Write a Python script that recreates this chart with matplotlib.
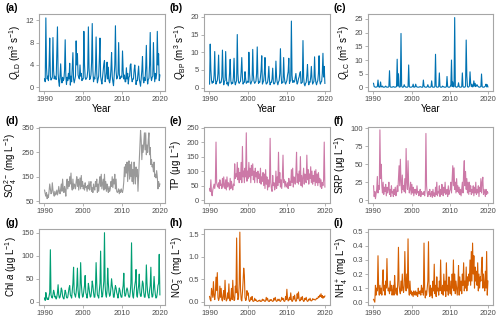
import numpy as np
import matplotlib
matplotlib.use("Agg")
import matplotlib.pyplot as plt
from matplotlib.ticker import FormatStrFormatter

plt.rcParams["font.family"] = ["Liberation Sans", "DejaVu Sans"]
plt.rcParams["mathtext.fontset"] = "custom"
plt.rcParams["mathtext.rm"] = "Liberation Sans"
plt.rcParams["mathtext.it"] = "Liberation Sans:italic"

# sampling: every second month, 1990-2019
YEARS = list(range(1990, 2020))
MONTHS = [1, 3, 5, 7, 9, 11]

q_ld = [
    [1.5, 1.0, 12.4, 3.5, 1.5, 2.0], [1.2, 4.0, 8.8, 2.0, 1.3, 1.5],
    [1.8, 8.9, 3.0, 1.5, 2.0, 1.6], [1.4, 6.0, 10.8, 2.5, 1.0, 0.2],
    [2.0, 4.2, 1.5, 0.8, 1.8, 1.2], [1.5, 3.0, 8.5, 2.0, 0.5, 1.8],
    [1.2, 2.5, 1.5, 4.3, 0.4, 2.0], [1.0, 3.5, 6.2, 1.5, 0.8, 1.4],
    [2.0, 8.3, 4.0, 6.0, 2.2, 1.8], [1.5, 4.0, 2.0, 2.5, 1.2, 1.5],
    [1.5, 10.0, 4.0, 1.8, 1.4, 1.6], [1.8, 3.0, 10.8, 3.5, 1.4, 1.6],
    [2.2, 4.5, 11.4, 3.0, 1.0, 1.8], [1.5, 3.2, 9.0, 2.5, 0.8, 1.4],
    [2.0, 5.0, 8.8, 2.0, 1.2, 0.6], [1.8, 3.0, 4.2, 4.8, 1.0, 1.6],
    [2.5, 4.5, 1.5, 3.6, 1.2, 0.8], [1.5, 3.2, 6.2, 2.0, 1.0, 0.3],
    [2.0, 4.0, 11.0, 3.0, 1.5, 1.8], [2.2, 8.0, 2.5, 1.5, 1.8, 2.0],
    [1.8, 6.5, 3.0, 1.5, 2.2, 1.0], [1.0, 3.5, 1.5, 2.5, 0.6, 1.8],
    [2.0, 4.0, 4.2, 1.8, 1.0, 1.5], [1.5, 3.0, 4.0, 2.5, 0.5, 1.2],
    [1.2, 2.5, 3.8, 1.5, 0.8, 0.2], [1.5, 3.0, 5.5, 1.5, 0.8, 1.8],
    [1.2, 3.5, 7.5, 2.0, 0.6, 1.4], [1.6, 4.0, 9.8, 2.0, 1.2, 1.8],
    [2.0, 8.0, 3.0, 1.0, 2.5, 1.5], [2.5, 10.0, 4.0, 6.0, 1.2, 2.2],
]

q_bp = [
    [1.0, 12.3, 5.0, 2.0, 1.2, 1.8], [1.5, 3.5, 10.2, 2.5, 1.0, 1.6],
    [2.0, 4.0, 9.2, 2.5, 1.2, 1.5], [1.5, 3.0, 10.6, 3.0, 0.8, 1.8],
    [2.0, 10.2, 3.0, 1.0, 1.5, 0.5], [1.5, 4.0, 8.0, 2.0, 1.0, 1.4],
    [1.2, 3.0, 8.3, 1.8, 0.8, 1.5], [2.0, 15.0, 4.0, 1.5, 1.2, 1.6],
    [1.8, 4.5, 8.5, 3.0, 1.0, 1.5], [1.5, 4.5, 2.5, 1.2, 1.5, 1.8],
    [1.5, 10.0, 4.0, 1.5, 1.0, 1.6], [2.0, 10.8, 3.5, 1.8, 1.2, 1.5],
    [1.8, 4.0, 11.5, 3.0, 1.2, 1.6], [1.5, 3.0, 5.0, 9.0, 1.0, 1.5],
    [2.0, 4.0, 8.5, 2.0, 1.0, 1.2], [1.5, 3.0, 6.0, 2.0, 0.8, 1.5],
    [1.5, 2.5, 5.5, 1.5, 1.0, 1.2], [1.8, 7.5, 3.0, 1.5, 0.8, 1.6],
    [2.0, 4.0, 11.0, 3.5, 1.2, 1.5], [1.5, 8.5, 3.0, 1.5, 1.0, 1.5],
    [2.0, 3.5, 4.5, 8.3, 1.2, 1.8], [2.0, 18.8, 3.5, 1.5, 2.0, 1.5],
    [1.8, 3.0, 4.0, 2.0, 1.0, 1.5], [2.5, 3.0, 4.0, 4.5, 1.2, 1.4],
    [1.5, 13.3, 3.0, 1.0, 0.5, 1.2], [1.5, 3.5, 6.5, 2.0, 0.8, 1.6],
    [1.5, 3.0, 6.0, 2.5, 1.0, 1.4], [1.8, 8.7, 3.0, 1.5, 0.8, 1.5],
    [2.0, 4.0, 9.0, 2.0, 1.0, 1.6], [1.8, 4.0, 9.7, 3.0, 6.0, 1.2],
]

q_lc = [
    [1.5, 0.3, 0.2, 0.1, 0.1, 0.2], [0.3, 2.7, 0.3, 0.1, 0.1, 2.0],
    [0.3, 0.2, 0.5, 0.1, 0.1, 0.1], [0.2, 0.5, 0.2, 0.1, 0.1, 0.1],
    [0.3, 6.1, 0.3, 0.1, 0.1, 0.1], [0.2, 0.3, 0.2, 0.1, 0.1, 0.2],
    [0.3, 10.3, 0.5, 5.0, 0.2, 0.1], [0.3, 19.7, 0.5, 0.1, 0.1, 0.2],
    [1.0, 0.4, 0.2, 0.1, 0.1, 0.1], [0.3, 8.2, 0.3, 0.1, 0.1, 0.1],
    [0.2, 0.3, 1.2, 0.1, 0.1, 0.2], [1.2, 0.3, 0.2, 0.1, 0.1, 0.1],
    [0.2, 0.3, 0.2, 0.1, 0.1, 0.1], [2.7, 0.5, 0.2, 0.1, 0.1, 0.1],
    [0.3, 1.0, 0.2, 0.1, 0.1, 0.1], [0.3, 2.4, 0.2, 0.1, 0.1, 0.1],
    [0.3, 12.1, 0.5, 0.1, 0.1, 0.1], [0.3, 5.3, 0.3, 0.1, 0.1, 0.1],
    [0.5, 0.3, 0.2, 0.1, 0.1, 0.1], [0.3, 4.0, 0.3, 0.1, 0.1, 0.1],
    [0.3, 1.0, 10.0, 0.3, 2.0, 0.2], [0.3, 25.5, 0.5, 0.1, 0.1, 0.2],
    [0.3, 1.7, 0.3, 0.1, 0.1, 0.1], [0.3, 5.3, 0.3, 0.1, 0.1, 0.1],
    [0.5, 17.3, 4.3, 0.3, 0.1, 0.2], [0.5, 5.7, 1.5, 0.3, 1.2, 0.2],
    [0.3, 2.4, 0.5, 1.5, 0.3, 0.8], [1.0, 0.5, 0.3, 0.1, 0.1, 0.2],
    [0.3, 4.9, 0.3, 0.1, 0.1, 0.1], [0.3, 0.5, 1.2, 0.2, 1.0, 0.2],
]

so4 = [
    [95, 80, 70, 85, 60, 75], [65, 90, 120, 100, 80, 85],
    [125, 95, 80, 70, 90, 75], [80, 95, 75, 85, 110, 90],
    [80, 100, 120, 90, 140, 100], [85, 110, 95, 70, 120, 140],
    [100, 130, 110, 150, 120, 165], [110, 95, 140, 100, 120, 115],
    [100, 130, 150, 110, 140, 95], [120, 145, 100, 155, 110, 130],
    [100, 115, 95, 125, 105, 110], [90, 115, 100, 130, 95, 120],
    [130, 90, 105, 85, 120, 100], [95, 130, 110, 140, 85, 120],
    [90, 130, 150, 110, 160, 100], [120, 140, 95, 160, 100, 130],
    [90, 120, 100, 85, 110, 90], [100, 130, 110, 150, 105, 140],
    [120, 160, 100, 140, 90, 85], [90, 100, 80, 95, 85, 100],
    [90, 85, 100, 130, 190, 150], [200, 165, 210, 130, 190, 215],
    [140, 200, 150, 210, 130, 180], [120, 210, 160, 120, 190, 150],
    [180, 90, 150, 200, 260, 340], [300, 220, 280, 250, 290, 330],
    [260, 330, 240, 280, 250, 300], [330, 240, 270, 200, 220, 190],
    [200, 170, 210, 150, 160, 145], [175, 150, 100, 130, 110, 120],
]

tp = [
    [40, 30, 70, 25, 15, 35], [45, 55, 40, 60, 200, 60],
    [50, 45, 60, 40, 70, 50], [55, 40, 75, 45, 80, 50],
    [40, 70, 35, 80, 45, 60], [55, 35, 75, 40, 65, 45],
    [35, 55, 50, 125, 75, 90], [80, 130, 70, 110, 60, 95],
    [70, 130, 60, 185, 80, 100], [60, 110, 80, 232, 65, 100],
    [75, 130, 80, 110, 60, 120], [85, 125, 70, 100, 60, 110],
    [80, 95, 60, 100, 75, 90], [60, 110, 55, 80, 65, 95],
    [50, 90, 40, 105, 55, 80], [35, 70, 45, 60, 213, 60],
    [40, 30, 85, 50, 60, 35], [45, 100, 40, 80, 50, 165],
    [60, 95, 45, 70, 40, 80], [155, 60, 70, 45, 65, 50],
    [45, 60, 40, 75, 50, 65], [50, 105, 60, 110, 45, 80],
    [70, 55, 95, 165, 60, 90], [55, 100, 65, 150, 50, 85],
    [45, 80, 110, 55, 90, 65], [60, 155, 70, 105, 55, 90],
    [75, 115, 60, 100, 55, 85], [65, 100, 50, 105, 60, 90],
    [50, 95, 60, 75, 45, 70], [40, 60, 50, 70, 200, 45],
]

srp = [
    [20, 5, 12, 2, 8, 15], [33, 10, 20, 15, 98, 30],
    [50, 20, 10, 25, 8, 18], [12, 22, 6, 18, 10, 15],
    [25, 8, 15, 5, 20, 10], [12, 5, 15, 8, 18, 6],
    [10, 20, 12, 30, 48, 20], [57, 25, 10, 35, 15, 20],
    [12, 30, 10, 72, 25, 15], [55, 20, 10, 15, 25, 8],
    [22, 10, 18, 6, 15, 10], [15, 8, 20, 10, 12, 6],
    [10, 15, 5, 12, 8, 10], [8, 12, 6, 15, 93, 20],
    [10, 5, 12, 8, 15, 5], [8, 12, 4, 15, 6, 10],
    [5, 18, 8, 25, 6, 12], [10, 20, 5, 15, 8, 22],
    [12, 6, 18, 10, 25, 8], [10, 15, 5, 20, 8, 12],
    [15, 25, 10, 30, 48, 20], [45, 15, 25, 10, 30, 12],
    [20, 10, 18, 8, 15, 6], [15, 25, 10, 40, 55, 20],
    [40, 15, 30, 10, 25, 8], [25, 12, 20, 8, 15, 10],
    [20, 6, 18, 10, 25, 8], [15, 10, 20, 5, 18, 12],
    [30, 10, 25, 32, 8, 15], [10, 5, 15, 8, 12, 10],
]

chla = [
    [8, 3, 20, 10, 5, 8], [5, 12, 20, 113, 15, 10],
    [8, 15, 25, 20, 10, 12], [6, 10, 20, 37, 15, 8],
    [10, 18, 30, 25, 12, 8], [6, 15, 25, 20, 10, 8],
    [10, 20, 30, 35, 15, 12], [8, 25, 40, 75, 20, 15],
    [10, 20, 35, 73, 25, 12], [8, 30, 85, 40, 20, 10],
    [12, 25, 35, 57, 20, 15], [8, 20, 40, 30, 18, 10],
    [12, 25, 45, 35, 20, 10], [10, 30, 85, 40, 15, 12],
    [8, 25, 40, 110, 30, 10], [12, 30, 45, 150, 35, 15],
    [10, 25, 73, 40, 20, 12], [15, 30, 50, 35, 25, 10],
    [10, 25, 35, 30, 20, 15], [8, 20, 30, 25, 15, 10],
    [10, 25, 35, 62, 20, 12], [15, 25, 30, 25, 15, 10],
    [10, 20, 40, 128, 30, 12], [8, 25, 35, 45, 70, 15],
    [10, 25, 35, 60, 20, 12], [12, 30, 45, 40, 20, 10],
    [10, 25, 80, 40, 20, 12], [8, 25, 35, 75, 20, 10],
    [12, 30, 55, 30, 15, 8], [10, 20, 35, 40, 103, 15],
]

no3 = [
    [0.12, 0.05, 0.02, 0.30, 0.20, 0.10], [0.45, 0.15, 0.05, 0.20, 0.55, 0.25],
    [0.65, 0.10, 0.03, 0.08, 0.35, 0.10], [0.30, 0.05, 0.02, 0.15, 0.25, 0.05],
    [0.48, 0.10, 0.02, 0.05, 0.20, 0.08], [0.40, 0.05, 0.02, 0.10, 0.30, 0.05],
    [0.48, 0.15, 0.03, 0.05, 0.35, 0.20], [1.42, 0.30, 0.05, 0.10, 0.40, 1.55],
    [0.30, 0.05, 0.02, 0.20, 0.45, 0.75], [0.60, 0.10, 0.03, 0.05, 0.25, 0.15],
    [0.20, 0.05, 0.01, 0.03, 0.10, 0.05], [0.12, 0.02, 0.01, 0.02, 0.08, 0.03],
    [0.05, 0.02, 0.01, 0.01, 0.03, 0.02], [0.04, 0.01, 0.01, 0.02, 0.06, 0.03],
    [0.05, 0.02, 0.01, 0.02, 0.10, 0.04], [0.08, 0.02, 0.01, 0.01, 0.05, 0.03],
    [0.05, 0.02, 0.01, 0.02, 0.08, 0.04], [0.10, 0.03, 0.01, 0.02, 0.06, 0.03],
    [0.06, 0.02, 0.01, 0.03, 0.10, 0.05], [0.08, 0.03, 0.01, 0.02, 0.12, 0.05],
    [0.28, 0.08, 0.02, 0.03, 0.10, 0.05], [0.20, 0.05, 0.01, 0.02, 0.12, 0.06],
    [0.15, 0.04, 0.01, 0.03, 0.18, 0.08], [0.22, 0.06, 0.02, 0.03, 0.10, 0.05],
    [0.12, 0.04, 0.01, 0.02, 0.08, 0.05], [0.10, 0.03, 0.01, 0.02, 0.06, 0.04],
    [0.08, 0.03, 0.02, 0.03, 0.07, 0.05], [0.06, 0.05, 0.04, 0.05, 0.08, 0.07],
    [0.08, 0.12, 0.10, 0.15, 0.12, 0.18], [0.10, 0.14, 0.08, 0.12, 0.10, 0.13],
]

nh4 = [
    [0.02, 0.01, 0.00, 0.12, 0.05, 0.10], [0.08, 0.33, 0.10, 0.05, 0.12, 0.06],
    [0.10, 0.05, 0.15, 0.23, 0.08, 0.12], [0.05, 0.15, 0.10, 0.31, 0.12, 0.08],
    [0.10, 0.06, 0.15, 0.08, 0.12, 0.05], [0.08, 0.12, 0.05, 0.19, 0.10, 0.06],
    [0.10, 0.05, 0.15, 0.39, 0.12, 0.08], [0.06, 0.15, 0.08, 0.20, 0.10, 0.07],
    [0.12, 0.36, 0.15, 0.08, 0.20, 0.10], [0.45, 0.10, 0.05, 0.15, 0.06, 0.08],
    [0.05, 0.07, 0.04, 0.08, 0.06, 0.05], [0.08, 0.05, 0.07, 0.04, 0.10, 0.06],
    [0.06, 0.08, 0.05, 0.12, 0.07, 0.10], [0.05, 0.42, 0.10, 0.03, 0.08, 0.05],
    [0.10, 0.15, 0.43, 0.08, 0.04, 0.12], [0.05, 0.10, 0.03, 0.15, 0.08, 0.27],
    [0.06, 0.12, 0.04, 0.18, 0.08, 0.10], [0.05, 0.15, 0.08, 0.30, 0.10, 0.06],
    [0.12, 0.05, 0.20, 0.08, 0.15, 0.04], [0.28, 0.08, 0.12, 0.05, 0.18, 0.10],
    [0.06, 0.15, 0.05, 0.20, 0.10, 0.30], [0.08, 0.20, 0.06, 0.15, 0.10, 0.05],
    [0.12, 0.26, 0.05, 0.18, 0.08, 0.15], [0.06, 0.20, 0.12, 0.28, 0.08, 0.15],
    [0.10, 0.25, 0.08, 0.18, 0.12, 0.20], [0.15, 0.30, 0.12, 0.36, 0.15, 0.42],
    [0.20, 0.33, 0.10, 0.25, 0.15, 0.22], [0.12, 0.28, 0.08, 0.20, 0.10, 0.18],
    [0.15, 0.25, 0.32, 0.10, 0.20, 0.12], [0.08, 0.22, 0.10, 0.36, 0.05, 0.15],
]

# label, data, colour, ylim, yticks, y-format
PANELS = [
    ("(a)", r"$Q_{\mathrm{LD}}$ (m$^3$ s$^{-1}$)", q_ld, "#0072B2", (-0.65, 13.1), [0, 4, 8, 12], None),
    ("(b)", r"$Q_{\mathrm{BP}}$ (m$^3$ s$^{-1}$)", q_bp, "#0072B2", (-0.95, 20.8), [0, 5, 10, 15, 20], None),
    ("(c)", r"$Q_{\mathrm{LC}}$ (m$^3$ s$^{-1}$)", q_lc, "#0072B2", (-1.3, 26.8), [0, 5, 10, 15, 20, 25], None),
    ("(d)", r"SO$_4^{2-}$ (mg L$^{-1}$)", so4, "#999999", (42, 354), [50, 150, 250, 350], None),
    ("(e)", r"TP (μg L$^{-1}$)", tp, "#CC79A7", (-10, 252), [0, 50, 100, 150, 200, 250], None),
    ("(f)", r"SRP (μg L$^{-1}$)", srp, "#CC79A7", (-4, 102), [0, 25, 50, 75, 100], None),
    ("(g)", r"Chl $a$ (μg L$^{-1}$)", chla, "#009E73", (-7, 158), [0, 50, 100, 150], None),
    ("(h)", r"NO$_3^-$ (mg L$^{-1}$)", no3, "#D55E00", (-0.07, 1.62), [0.0, 0.5, 1.0, 1.5], "%.1f"),
    ("(i)", r"NH$_4^+$ (mg L$^{-1}$)", nh4, "#D55E00", (-0.02, 0.52), [0.0, 0.1, 0.2, 0.3, 0.4, 0.5], "%.1f"),
]

W, H = 500, 319
COL_X = [(39, 165), (204, 330), (368, 493)]
ROW_Y = [(14, 91), (127, 203), (229, 305)]
FRAME = "#a6a6a6"


def main() -> None:
    time = np.array([y + (m - 0.5) / 12.0 for y in YEARS for m in MONTHS])

    fig = plt.figure(figsize=(W / 100, H / 100), dpi=100)

    for i, (tag, ylabel, rows, color, ylim, yticks, fmt) in enumerate(PANELS):
        r, c = divmod(i, 3)
        x0, x1 = COL_X[c]
        y0, y1 = ROW_Y[r]
        ax = fig.add_axes([x0 / W, 1 - y1 / H, (x1 - x0) / W, (y1 - y0) / H])

        values = np.array(rows, dtype=float).ravel()
        ax.plot(time, values, color=color, linewidth=0.8)

        ax.set_xlim(1988.6, 2021.2)
        ax.set_ylim(*ylim)
        ax.set_xticks([1990, 2000, 2010, 2020])
        ax.set_yticks(yticks)
        if fmt:
            ax.yaxis.set_major_formatter(FormatStrFormatter(fmt))

        for spine in ax.spines.values():
            spine.set_color(FRAME)
            spine.set_linewidth(0.8)
        ax.tick_params(length=2, width=0.6, color=FRAME, labelsize=5.5,
                       labelcolor="#4d4d4d", pad=1.5)

        ax.set_ylabel(ylabel, fontsize=7, labelpad=2)
        if r == 0:
            ax.set_xlabel("Year", fontsize=7, labelpad=1)

        fig.text((x0 - 34) / W, 1 - (y0 - 6) / H, tag, fontsize=7.5,
                 fontweight="bold", va="center", ha="left")

    fig.savefig("out.png", dpi=100)


if __name__ == "__main__":
    main()
